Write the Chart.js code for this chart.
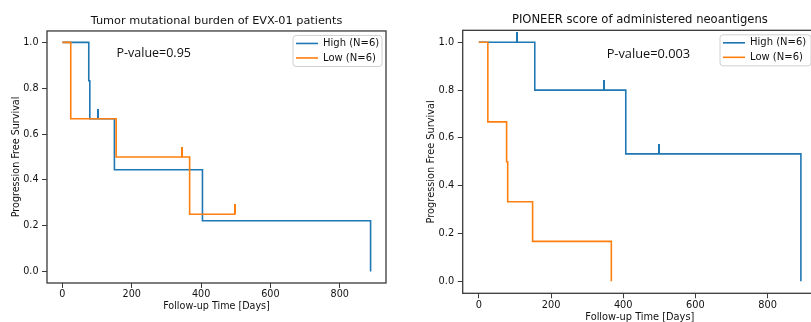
<!DOCTYPE html>
<html>
<head>
<meta charset="utf-8">
<script src="https://cdn.jsdelivr.net/npm/chart.js@4.4.1/dist/chart.umd.min.js"></script>
<style>
  html, body { margin: 0; padding: 0; background: #fff; width: 811px; height: 322px; overflow: hidden; position: relative; }
  canvas { position: absolute; top: 0; }
</style>
</head>
<body>
<canvas id="tmb-chart" width="400" height="322" style="left:0"></canvas>
<canvas id="pioneer-chart" width="411" height="335" style="left:411px"></canvas>
<script>
// ---- data ----
var tmbHighDays = [0, 76, 79, 150, 404, 889];
var tmbHighSurv = [1, 0.833, 0.667, 0.444, 0.222, 0];
var tmbHighCensDays = [104];
var tmbHighCensSurv = [0.667];
var tmbLowDays = [0, 24, 155, 367, 499];
var tmbLowSurv = [1, 0.667, 0.5, 0.25, 0.25];
var tmbLowCensDays = [345, 499];
var tmbLowCensSurv = [0.5, 0.25];

var pioHighDays = [0, 155, 407, 892];
var pioHighSurv = [1, 0.8, 0.533, 0];
var pioHighCensDays = [105, 346, 499];
var pioHighCensSurv = [1, 0.8, 0.533];
var pioLowDays = [0, 25, 77, 80, 149, 367];
var pioLowSurv = [1, 0.667, 0.5, 0.333, 0.167, 0];

var groupLabels = ['High (N=6)', 'Low (N=6)'];
var xTickValues = [0, 200, 400, 600, 800];
var yTickValues = [0, 0.2, 0.4, 0.6, 0.8, 1.0];

var colors = ['#1f77b4', '#ff7f0e'];
var FONT = '"DejaVu Sans", sans-serif';

function toPoints(xs, ys) {
    return xs.map(function (x, i) { return {x: x, y: ys[i]}; });
}

// small vertical tick used as the censor marker (upper half only)
function censorMark(color) {
    var c = document.createElement('canvas');
    c.width = 2; c.height = 20;
    var g = c.getContext('2d');
    g.fillStyle = color;
    g.fillRect(0, 0, 2, 10);
    return c;
}

function curve(label, xs, ys, color, order) {
    return {
        label: label, data: toPoints(xs, ys), borderColor: color, backgroundColor: color,
        borderWidth: 1.6, pointRadius: 0, stepped: 'before', fill: false, order: order, inLegend: true
    };
}

function censors(xs, ys, color, order) {
    return {
        type: 'scatter', label: '', data: toPoints(xs, ys), showLine: false,
        pointStyle: censorMark(color), pointRadius: 3, order: order
    };
}

// frame, p-value text and legend box, drawn like matplotlib does
var kmDecor = {
    id: 'kmDecor',
    afterDraw: function (chart, args, opts) {
        var ctx = chart.ctx, a = chart.chartArea;
        var sx = chart.scales.x, sy = chart.scales.y;
        ctx.save();
        ctx.strokeStyle = '#3a3a3a';
        ctx.lineWidth = 1.3;
        ctx.strokeRect(a.left, a.top, a.right - a.left, a.bottom - a.top);

        ctx.fillStyle = '#111';
        ctx.font = opts.pFont;
        ctx.textBaseline = 'middle';
        ctx.textAlign = 'left';
        ctx.fillText(opts.pText, sx.getPixelForValue(opts.pAt[0]), sy.getPixelForValue(opts.pAt[1]));

        var lx = a.right - opts.legendInset - opts.legendW, ly = a.top + 4.5;
        ctx.beginPath();
        ctx.roundRect(lx, ly, opts.legendW, 31, 3);
        ctx.fillStyle = 'rgba(255,255,255,0.85)';
        ctx.fill();
        ctx.strokeStyle = '#d0d0d0';
        ctx.lineWidth = 1;
        ctx.stroke();
        ctx.font = '10px ' + FONT;
        var row = 0;
        chart.data.datasets.forEach(function (ds) {
            if (!ds.inLegend) return;
            var yy = ly + 8 + row * 14.5;
            ctx.strokeStyle = ds.borderColor;
            ctx.lineWidth = 1.6;
            ctx.beginPath();
            ctx.moveTo(lx + 3, yy);
            ctx.lineTo(lx + 25, yy);
            ctx.stroke();
            ctx.fillStyle = '#111';
            ctx.fillText(ds.label, lx + 30, yy);
            row++;
        });
        ctx.restore();
    }
};

function fixedTicks(values) {
    return function (s) { s.ticks = values.map(function (v) { return {value: v}; }); };
}

function kmChart(id, cfg) {
    var ctx = document.getElementById(id).getContext('2d');
    return new Chart(ctx, {
        type: 'line',
        data: {datasets: cfg.datasets},
        options: {
            responsive: false, animation: false, events: [],
            layout: {padding: {left: 0, right: cfg.padRight, top: 0, bottom: 0}},
            plugins: {
                legend: {display: false},
                tooltip: {enabled: false},
                title: {
                    display: true, text: cfg.title, fullSize: false, color: '#111',
                    font: {family: FONT, size: cfg.titleSize, weight: 'normal', lineHeight: 1.2},
                    padding: {top: cfg.titleTop, bottom: cfg.titleBottom}
                },
                kmDecor: cfg.decor
            },
            scales: {
                x: {
                    type: 'linear', min: cfg.xMin, max: cfg.xMax,
                    afterBuildTicks: fixedTicks(xTickValues),
                    afterFit: function (s) { s.height = cfg.xAxisH; },
                    border: {display: false},
                    grid: {display: true, drawOnChartArea: false, drawTicks: true, tickLength: 5, tickColor: '#3a3a3a', tickWidth: 1},
                    ticks: {color: '#111', padding: 1, maxRotation: 0,
                        font: {family: FONT, size: cfg.tickSize},
                        callback: function (v) { return String(v); }},
                    title: {display: true, text: 'Follow-up Time [Days]', color: '#111',
                        font: {family: FONT, size: cfg.labelSize}, padding: {top: 0, bottom: cfg.xTitlePad}}
                },
                y: {
                    min: -0.05, max: 1.05,
                    afterBuildTicks: fixedTicks(yTickValues),
                    afterFit: function (s) { s.width = cfg.yAxisW; },
                    border: {display: false},
                    grid: {display: true, drawOnChartArea: false, drawTicks: true, tickLength: 5, tickColor: '#3a3a3a', tickWidth: 1},
                    ticks: {color: '#111', padding: 3.5,
                        font: {family: FONT, size: cfg.tickSize},
                        callback: function (v) { return v.toFixed(1); }},
                    title: {display: true, text: 'Progression Free Survival', color: '#111',
                        font: {family: FONT, size: cfg.labelSize}, padding: {top: cfg.yTitlePad, bottom: 0}}
                }
            }
        },
        plugins: [kmDecor]
    });
}

kmChart('tmb-chart', {
    title: 'Tumor mutational burden of EVX-01 patients',
    datasets: [
        curve(groupLabels[0], tmbHighDays, tmbHighSurv, colors[0], 3),
        censors(tmbHighCensDays, tmbHighCensSurv, colors[0], 2),
        curve(groupLabels[1], tmbLowDays, tmbLowSurv, colors[1], 1),
        censors(tmbLowCensDays, tmbLowCensSurv, colors[1], 0)
    ],
    xMin: -44.5, xMax: 933.5, padRight: 14, xAxisH: 39, yAxisW: 47,
    titleSize: 11.3, titleTop: 14.2, titleBottom: 3.2,
    tickSize: 9.6, labelSize: 9.6, xTitlePad: 9.8, yTitlePad: 10.3,
    decor: {pText: 'P-value=0.95', pAt: [156, 0.95], pFont: '12.5px "Open Sans", sans-serif', legendW: 89, legendInset: 4}
});

kmChart('pioneer-chart', {
    title: 'PIONEER score of administered neoantigens',
    datasets: [
        curve(groupLabels[0], pioHighDays, pioHighSurv, colors[0], 3),
        censors(pioHighCensDays, pioHighCensSurv, colors[0], 2),
        curve(groupLabels[1], pioLowDays, pioLowSurv, colors[1], 1)
    ],
    xMin: -44.6, xMax: 936.6, padRight: 4.3, xAxisH: 41.7, yAxisW: 51.7,
    titleSize: 11.6, titleTop: 13.2, titleBottom: 3.2,
    tickSize: 9.8, labelSize: 9.8, xTitlePad: 11.3, yTitlePad: 14.3,
    decor: {pText: 'P-value=0.003', pAt: [354, 0.95], pFont: '12.8px "Open Sans", sans-serif', legendW: 91, legendInset: 6}
});
</script>
</body>
</html>
